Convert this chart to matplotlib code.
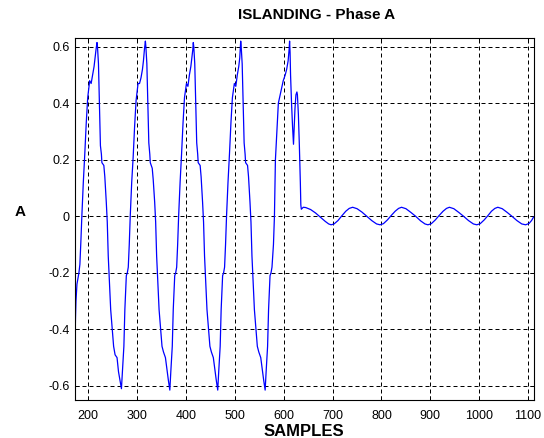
import matplotlib
matplotlib.use("Agg")
import matplotlib.pyplot as plt

# ---- data ----
# before islanding (distorted current, 5 cycles)
pre_samples = [
    173, 174, 175, 177, 179, 181, 183, 185, 187, 190, 193, 196, 199, 203, 206, 209, 212, 214, 216, 218,
    219, 221, 223, 225, 227, 228, 232, 234, 237, 239, 241, 246, 252, 255, 259, 262, 265, 268,
    270, 273, 275, 278, 280, 282, 284, 286, 289, 292, 295, 298, 302, 305, 308, 311, 313, 315, 317,
    318, 320, 322, 324, 326, 327, 331, 333, 336, 338, 340, 345, 351, 354, 358, 361, 364, 367,
    369, 372, 374, 377, 379, 381, 383, 385, 388, 391, 394, 397, 401, 404, 407, 410, 412, 414, 415,
    416, 418, 420, 422, 424, 425, 429, 431, 434, 436, 438, 443, 449, 452, 456, 459, 462, 465,
    467, 470, 472, 475, 477, 479, 481, 483, 486, 489, 492, 495, 499, 502, 505, 508, 510, 511, 512,
    513, 515, 517, 519, 521, 522, 526, 528, 531, 533, 535, 540, 546, 549, 553, 556, 559, 562,
    564, 567, 569, 572, 574, 576, 579, 581, 583, 586, 589, 594, 599, 603, 606, 609, 611, 612,
    613, 614, 616, 618, 620, 621, 623, 625, 627, 628, 630, 632, 634, 635, 636,
]
pre_current = [
    -0.45, -0.36, -0.30, -0.24, -0.22, -0.20, -0.17, -0.09, 0.00, 0.12, 0.22, 0.33, 0.42, 0.48, 0.47, 0.50, 0.53, 0.56, 0.59, 0.615,
    0.60, 0.54, 0.40, 0.25, 0.22, 0.19, 0.18, 0.14, 0.05, -0.02, -0.14, -0.33, -0.46, -0.49, -0.50, -0.55, -0.58, -0.61,
    -0.55, -0.46, -0.33, -0.21, -0.20, -0.18, -0.10, 0.00, 0.12, 0.21, 0.32, 0.41, 0.47, 0.47, 0.49, 0.52, 0.55, 0.59, 0.62,
    0.60, 0.54, 0.40, 0.26, 0.22, 0.19, 0.17, 0.13, 0.05, -0.02, -0.14, -0.33, -0.46, -0.48, -0.50, -0.54, -0.58, -0.615,
    -0.55, -0.46, -0.33, -0.21, -0.20, -0.18, -0.10, 0.00, 0.12, 0.22, 0.33, 0.42, 0.47, 0.46, 0.50, 0.53, 0.56, 0.59, 0.615,
    0.60, 0.54, 0.40, 0.26, 0.22, 0.19, 0.18, 0.14, 0.05, -0.02, -0.14, -0.33, -0.46, -0.48, -0.50, -0.54, -0.58, -0.615,
    -0.55, -0.46, -0.33, -0.21, -0.20, -0.18, -0.10, 0.00, 0.12, 0.22, 0.33, 0.42, 0.47, 0.46, 0.50, 0.53, 0.56, 0.59, 0.62,
    0.60, 0.54, 0.40, 0.26, 0.22, 0.19, 0.18, 0.14, 0.05, -0.02, -0.14, -0.33, -0.46, -0.48, -0.50, -0.54, -0.58, -0.615,
    -0.55, -0.46, -0.33, -0.21, -0.20, -0.18, -0.10, 0.00, 0.20, 0.30, 0.40, 0.44, 0.48, 0.50, 0.52, 0.55, 0.59, 0.62,
    0.58, 0.50, 0.40, 0.32, 0.255, 0.30, 0.38, 0.43, 0.44, 0.43, 0.36, 0.25, 0.12, 0.04, 0.025,
]
# after islanding (small residual oscillation)
post_samples = [
    640, 645, 655, 665, 675, 685, 692, 697, 703, 711, 719, 727, 734, 741,
    750, 760, 770, 780, 790, 797, 804, 812, 820, 828, 835, 841,
    850, 860, 870, 880, 889, 895, 902, 910, 918, 926, 933, 939,
    948, 958, 968, 978, 988, 995, 1002, 1010, 1018, 1025, 1032, 1038,
    1047, 1057, 1067, 1077, 1087, 1095, 1102, 1107, 1111,
]
post_current = [
    0.032, 0.031, 0.024, 0.012, -0.003, -0.018, -0.027, -0.030, -0.027, -0.015, 0.002, 0.018, 0.028, 0.032,
    0.027, 0.015, 0.000, -0.015, -0.027, -0.030, -0.026, -0.013, 0.003, 0.018, 0.028, 0.032,
    0.027, 0.014, 0.000, -0.016, -0.027, -0.030, -0.026, -0.013, 0.003, 0.018, 0.028, 0.032,
    0.027, 0.014, 0.000, -0.015, -0.027, -0.030, -0.026, -0.013, 0.003, 0.018, 0.028, 0.032,
    0.027, 0.014, 0.000, -0.015, -0.027, -0.030, -0.025, -0.015, -0.003,
]

x_ticks = [200, 300, 400, 500, 600, 700, 800, 900, 1000, 1100]
y_ticks = [-0.6, -0.4, -0.2, 0, 0.2, 0.4, 0.6]
y_tick_labels = ["-0.6", "-0.4", "-0.2", "0", "0.2", "0.4", "0.6"]

title = "ISLANDING - Phase A"
x_label = "SAMPLES"
y_label = "A"

# ---- drawing ----
plt.rcParams['font.family'] = ['Liberation Sans', 'DejaVu Sans']

fig = plt.figure(figsize=(5.44, 4.38), dpi=100)
ax = fig.add_axes([75 / 544, 1 - 400 / 438, (533.5 - 75) / 544, (400 - 38) / 438])

samples = pre_samples + post_samples
current = pre_current + post_current
ax.plot(samples, current, color='#0000ff', lw=0.9)

ax.set_xlim(173, 1111)
ax.set_ylim(-0.65, 0.631)
ax.set_xticks(x_ticks)
ax.set_yticks(y_ticks)
ax.set_yticklabels(y_tick_labels)

ax.grid(True, color='black', linestyle=(0, (4, 3)), linewidth=0.72)
ax.tick_params(direction='in', length=3, width=0.72, top=True, right=True,
               labelsize=9, colors='black')
ax.tick_params(axis='x', pad=7)
ax.tick_params(axis='y', pad=4)
for sp in ax.spines.values():
    sp.set_linewidth(0.8)
    sp.set_color('black')

fig.text(317 / 544, 1 - 15 / 438, title, fontsize=11, fontweight='bold',
         ha='center', va='center')
ax.set_xlabel(x_label, fontsize=12, fontweight='bold', labelpad=2)
ax.set_ylabel(y_label, fontsize=11, fontweight='bold', rotation=0, labelpad=0)
ax.yaxis.set_label_coords(-0.12, 0.5)

fig.savefig("out.png", dpi=100)
